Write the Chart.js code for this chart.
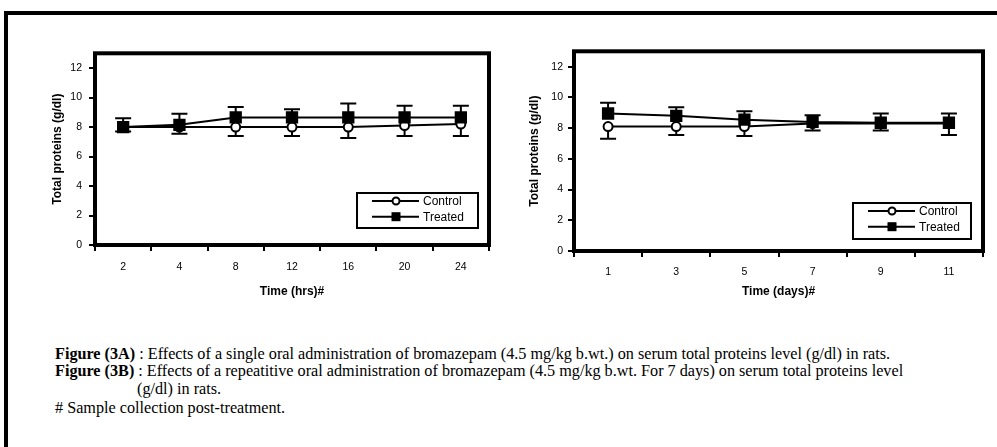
<!DOCTYPE html>
<html>
<head>
<meta charset="utf-8">
<script src="https://cdn.jsdelivr.net/npm/chart.js@4/dist/chart.umd.min.js"></script>
<style>
  body { margin: 0; background: #fff; }
  #page { position: relative; width: 997px; height: 447px; overflow: hidden; background: #fff; }
  #frame { position: absolute; left: 4px; top: 11px; width: 1100px; height: 500px; border-top: 4px solid #000; border-left: 4px solid #000; }
  canvas { position: absolute; }
  .cap { position: absolute; font-family: "Liberation Serif", "Times New Roman", serif; font-size: 16.2px; line-height: 18px; white-space: nowrap; color: #000; }
</style>
</head>
<body>
<div id="page">
  <div id="frame"></div>
  <canvas id="chartA" width="500" height="270" style="left:0px;top:40px"></canvas>
  <canvas id="chartB" width="497" height="270" style="left:500px;top:40px"></canvas>
  <div class="cap" style="left:55px;top:345px"><b>Figure (3A)</b> : Effects of a single oral administration of bromazepam (4.5 mg/kg b.wt.) on serum total proteins level (g/dl) in rats.</div>
  <div class="cap" style="left:55px;top:362px"><b>Figure (3B)</b> : Effects of a repeatitive oral administration of bromazepam (4.5 mg/kg b.wt. For 7 days) on serum total proteins level</div>
  <div class="cap" style="left:137px;top:380px">(g/dl) in rats.</div>
  <div class="cap" style="left:55px;top:399px"># Sample collection post-treatment.</div>
</div>
<script>
// Figure 3A - single dose, hours
var hoursA = ['2', '4', '8', '12', '16', '20', '24'];
var controlA = [8.0, 8.0, 8.0, 8.0, 8.0, 8.1, 8.2];
var controlErrA = [0.3, 0.45, 0.6, 0.6, 0.75, 0.7, 0.8];
var treatedA = [8.0, 8.15, 8.65, 8.65, 8.65, 8.65, 8.65];
var treatedErrA = [0.6, 0.75, 0.7, 0.55, 0.95, 0.8, 0.8];

// Figure 3B - repeated dose, days
var daysB = ['1', '3', '5', '7', '9', '11'];
var controlB = [8.1, 8.1, 8.1, 8.3, 8.3, 8.3];
var controlErrB = [0.8, 0.55, 0.62, 0.45, 0.45, 0.75];
var treatedB = [8.95, 8.8, 8.55, 8.4, 8.35, 8.35];
var treatedErrB = [0.7, 0.55, 0.55, 0.44, 0.6, 0.6];

var yTicks = [0, 2, 4, 6, 8, 10, 12];

Chart.defaults.font.family = "'Liberation Sans', Arial, sans-serif";
Chart.defaults.color = '#000';

var errorBars = {
  id: 'errorBars',
  beforeDatasetsDraw: function(chart) {
    var ctx = chart.ctx;
    var y = chart.scales.y;
    ctx.save();
    ctx.strokeStyle = '#000';
    ctx.lineWidth = 2;
    chart.data.datasets.forEach(function(ds, i) {
      var meta = chart.getDatasetMeta(i);
      meta.data.forEach(function(pt, j) {
        var end = y.getPixelForValue(ds.data[j] + ds.errDir * ds.errors[j]);
        ctx.beginPath();
        ctx.moveTo(pt.x, pt.y);
        ctx.lineTo(pt.x, end);
        ctx.moveTo(pt.x - 8, end);
        ctx.lineTo(pt.x + 8, end);
        ctx.stroke();
      });
    });
    ctx.restore();
  }
};

var boxAndLegend = {
  id: 'boxAndLegend',
  afterDraw: function(chart, args, opts) {
    var ctx = chart.ctx;
    var a = chart.chartArea;
    ctx.save();
    ctx.strokeStyle = '#000';
    ctx.lineWidth = 4;
    ctx.strokeRect(a.left, a.top, a.right - a.left, a.bottom - a.top);

    var bx = a.right - opts.right - opts.width;
    var by = a.bottom - opts.bottom - opts.height;
    ctx.lineWidth = 2;
    ctx.strokeRect(bx, by, opts.width, opts.height);
    ctx.font = '12px "Liberation Sans", Arial, sans-serif';
    ctx.textBaseline = 'middle';
    ctx.fillStyle = '#000';
    chart.data.datasets.forEach(function(ds, i) {
      var ry = by + 8 + i * 15.7;
      ctx.beginPath();
      ctx.moveTo(bx + 15, ry);
      ctx.lineTo(bx + 62, ry);
      ctx.stroke();
      var mx = bx + 39;
      if (ds.pointStyle === 'rect') {
        ctx.fillRect(mx - 4.5, ry - 4.5, 9, 9);
      } else {
        ctx.beginPath();
        ctx.arc(mx, ry, 3.5, 0, Math.PI * 2);
        ctx.fillStyle = '#fff';
        ctx.fill();
        ctx.stroke();
        ctx.fillStyle = '#000';
      }
      ctx.fillText(ds.label, bx + 66, ry + 0.5);
    });
    ctx.restore();
  }
};

function makeChart(id, labels, control, controlErr, treated, treatedErr, cfg) {
  var ctx = document.getElementById(id).getContext('2d');
  return new Chart(ctx, {
    type: 'line',
    data: {
      labels: labels,
      datasets: [{
        label: 'Control',
        data: control,
        errors: controlErr,
        errDir: -1,
        order: 2,
        borderColor: '#000',
        borderWidth: 2,
        pointStyle: 'circle',
        pointRadius: 4.5,
        pointBorderWidth: 2,
        pointBackgroundColor: '#fff',
        pointBorderColor: '#000'
      }, {
        label: 'Treated',
        data: treated,
        errors: treatedErr,
        errDir: 1,
        order: 1,
        borderColor: '#000',
        borderWidth: 2,
        pointStyle: 'rect',
        pointRadius: 8.7,
        pointBorderWidth: 0,
        pointBackgroundColor: '#000',
        pointBorderColor: '#000'
      }]
    },
    options: {
      responsive: false,
      animation: false,
      layout: { padding: { top: cfg.top, right: cfg.right, left: 0, bottom: 0 } },
      plugins: {
        legend: { display: false },
        tooltip: { enabled: false },
        boxAndLegend: cfg.legend
      },
      scales: {
        x: {
          offset: true,
          grid: { offset: true, drawOnChartArea: false, drawTicks: true, tickLength: 6, lineWidth: 2, color: '#000' },
          border: { display: false },
          ticks: { font: { size: 10.5 }, padding: cfg.xPad, maxRotation: 0 },
          title: { display: true, text: cfg.xTitle, font: { size: 12, weight: 'bold' }, padding: { top: 0, bottom: 11 } },
          afterFit: function(scale) { scale.height = cfg.xHeight; }
        },
        y: {
          min: 0,
          max: 13,
          afterBuildTicks: function(scale) {
            scale.ticks = yTicks.map(function(v) { return { value: v }; });
          },
          grid: { drawOnChartArea: false, drawTicks: true, tickLength: 6, lineWidth: 2, color: '#000' },
          border: { display: false },
          ticks: { font: { size: 10.5 }, padding: cfg.yPad },
          title: { display: true, text: 'Total proteins (g/dl)', font: { size: 12, weight: 'bold' }, padding: { top: cfg.yTitlePad, bottom: 0 } },
          afterFit: function(scale) { scale.width = cfg.yWidth; }
        }
      }
    },
    plugins: [errorBars, boxAndLegend]
  });
}

makeChart('chartA', hoursA, controlA, controlErrA, treatedA, treatedErrA, {
  top: 9, right: 11, yWidth: 95, xHeight: 65, xPad: 10, yPad: 7, yTitlePad: 50,
  xTitle: 'Time (hrs)#',
  legend: { right: 11, bottom: 17, width: 121, height: 35 }
});

makeChart('chartB', daysB, controlB, controlErrB, treatedB, treatedErrB, {
  top: 11, right: 14, yWidth: 74, xHeight: 59, xPad: 9, yPad: 5, yTitlePad: 27,
  xTitle: 'Time (days)#',
  legend: { right: 12, bottom: 12, width: 118, height: 36 }
});
</script>
</body>
</html>
